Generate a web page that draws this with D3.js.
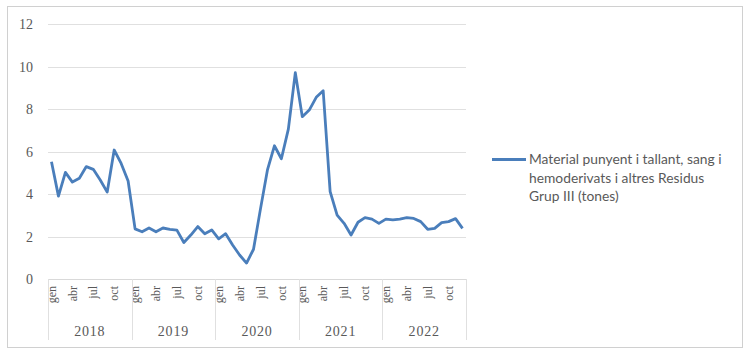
<!DOCTYPE html>
<html><head><meta charset="utf-8">
<script src="https://cdn.jsdelivr.net/npm/d3@7/dist/d3.min.js"></script>
<style>body{margin:0;background:#fff}svg{display:block}</style>
</head><body>
<svg id="c" width="747" height="357"></svg>
<script>
const years = ["2018","2019","2020","2021","2022"];
const months = ["gen","feb","mar","abr","mai","jun","jul","ago","set","oct","nov","des"];
const monthLabels = ["gen","abr","jul","oct"];
const yTicks = [0,2,4,6,8,10,12];
const seriesName = ["Material punyent i tallant, sang i","hemoderivats i altres Residus","Grup III (tones)"];
const values = [
  5.52,3.90,5.02,4.56,4.74,5.29,5.16,4.66,4.09,6.07,5.44,4.61,
  2.36,2.22,2.40,2.22,2.40,2.34,2.30,1.72,2.07,2.47,2.13,2.31,
  1.89,2.13,1.60,1.13,0.75,1.40,3.30,5.13,6.27,5.66,7.05,9.71,
  7.64,7.95,8.55,8.86,4.11,3.01,2.62,2.07,2.67,2.89,2.82,2.62,
  2.82,2.78,2.82,2.89,2.85,2.70,2.34,2.38,2.65,2.70,2.84,2.38
];

const svg = d3.select("#c");
const L = 48, R = 466, T = 24, B = 279;
const grey = "#595959";

svg.append("rect").attr("x",7.5).attr("y",6.5).attr("width",735).attr("height",341)
  .attr("fill","#fff").attr("stroke","#d0d0d0");

const data = [];
years.forEach((yr,i)=>months.forEach((m,j)=>data.push({key:yr+"-"+m, year:yr, month:m, v:values[i*12+j]})));

const x = d3.scaleBand().domain(data.map(d=>d.key)).range([L,R]);
const y = d3.scaleLinear().domain([0,12]).range([B,T]);

// gridlines
svg.append("g").selectAll("line").data(yTicks.filter(t=>t>0)).join("line")
  .attr("x1",L).attr("x2",R).attr("y1",d=>Math.round(y(d))+0.5).attr("y2",d=>Math.round(y(d))+0.5)
  .attr("stroke","#e0e0e0").attr("stroke-width",1);

// y axis labels
const ya = svg.append("g").attr("transform",`translate(${L-8},0)`)
  .call(d3.axisLeft(y).tickValues(yTicks).tickSize(0).tickPadding(7));
ya.select(".domain").remove();
ya.selectAll("text").attr("fill",grey).attr("font-family","Liberation Serif").attr("font-size",14).attr("dy","0.35em");

// x axis line
svg.append("line").attr("x1",L).attr("x2",R).attr("y1",B+0.5).attr("y2",B+0.5).attr("stroke","#d9d9d9");

// month labels
const xa = svg.append("g").attr("transform",`translate(0,${B})`)
  .call(d3.axisBottom(x).tickValues(data.filter(d=>monthLabels.includes(d.month)).map(d=>d.key))
    .tickSize(0).tickFormat(k=>k.split("-")[1]));
xa.select(".domain").remove();
xa.selectAll("text").attr("fill",grey).attr("font-family","Liberation Serif").attr("font-size",12)
  .attr("text-anchor","end").attr("transform","rotate(-90)").attr("x",-7).attr("y",0).attr("dy","0.35em");

// year separators & labels
const yearScale = d3.scaleBand().domain(years).range([L,R]);
const seps = years.map(yr=>yearScale(yr)).concat([R]);
svg.append("g").selectAll("line").data(seps).join("line")
  .attr("x1",d=>Math.round(d)+0.5).attr("x2",d=>Math.round(d)+0.5).attr("y1",B).attr("y2",340)
  .attr("stroke","#e0e0e0");
svg.append("g").selectAll("text").data(years).join("text")
  .attr("x",d=>yearScale(d)+yearScale.bandwidth()/2).attr("y",336)
  .attr("text-anchor","middle").attr("fill",grey).attr("font-family","Liberation Serif")
  .attr("font-size",14).attr("letter-spacing",0.8).text(d=>d);

// line
const line = d3.line().x(d=>x(d.key)+x.bandwidth()/2).y(d=>y(d.v));
svg.append("path").datum(data).attr("d",line).attr("fill","none")
  .attr("stroke","#4a7ebb").attr("stroke-width",2.8).attr("stroke-linejoin","round");

// legend
svg.append("line").attr("x1",492).attr("x2",526).attr("y1",159.5).attr("y2",159.5)
  .attr("stroke","#4a7ebb").attr("stroke-width",2.8);
svg.append("g").selectAll("text").data(seriesName).join("text")
  .attr("x",529).attr("y",(d,i)=>164+i*18.5).attr("fill",grey)
  .attr("font-family","Lato").attr("font-size",13.8).text(d=>d);
</script>
</body></html>
